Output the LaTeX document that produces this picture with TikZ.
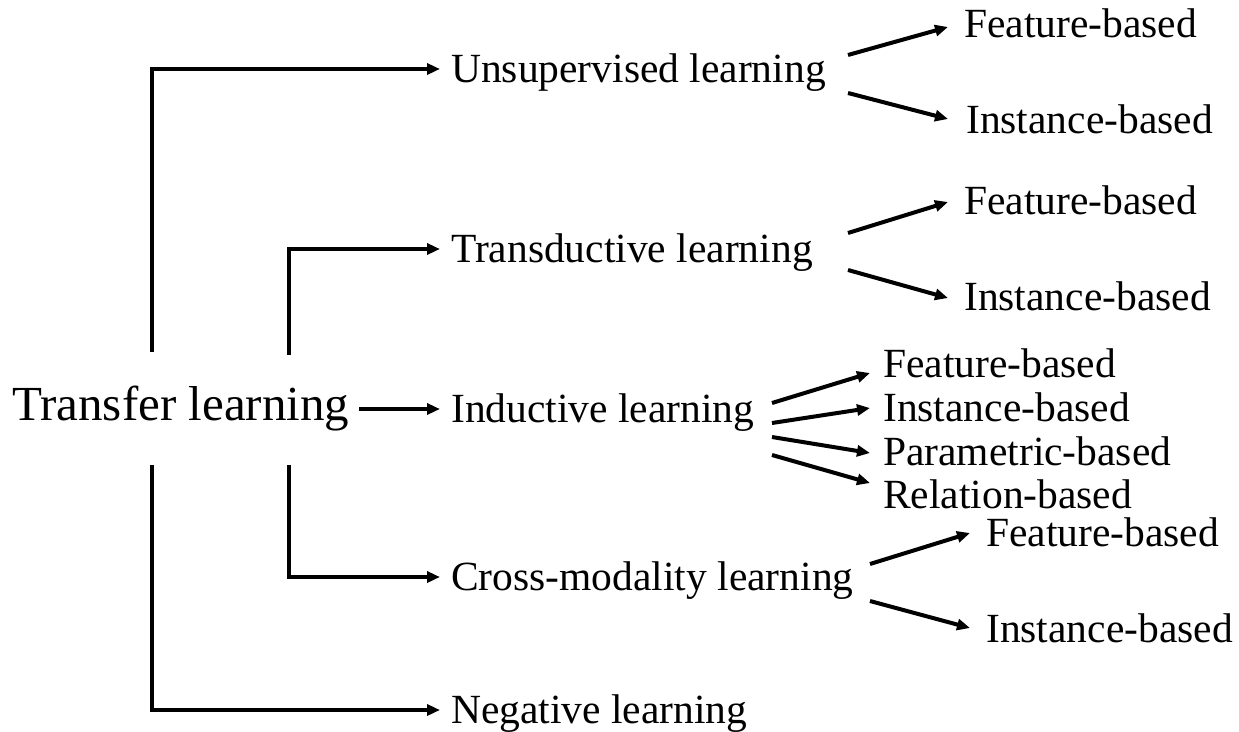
\documentclass[tikz,border=0pt]{standalone}
\usepackage{fontspec}
\setmainfont{Liberation Serif}
\usetikzlibrary{arrows.meta,calc}
\begin{document}
\begin{tikzpicture}[x=1pt,y=-1pt,
  lbl/.style={inner sep=0pt, anchor=base west, text height=26pt, text depth=0pt,
    font=\fontsize{41.5}{44}\selectfont},
  root/.style={lbl, text height=31pt, font=\fontsize{49}{52}\selectfont},
  conn/.style={line width=4pt, -{Triangle[length=13pt,width=11pt]}},
]
\useasboundingbox (0,0) rectangle (1239,731);
% nodes
\node[root] (tl) at (12,420) {Transfer learning};
\node[lbl] (uns) at (451,82) {Unsupervised learning};
\node[lbl] (tra) at (451,262) {Transductive learning};
\node[lbl] (ind) at (451,422) {Inductive learning};
\node[lbl] (cro) at (451,590) {Cross-modality learning};
\node[lbl] (neg) at (451,723) {Negative learning};
\node[lbl] (u1) at (964,37) {Feature-based};
\node[lbl] (u2) at (966,133) {Instance-based};
\node[lbl] (t1) at (964,214) {Feature-based};
\node[lbl] (t2) at (964,310) {Instance-based};
\node[lbl] (i1) at (883,377) {Feature-based};
\node[lbl] (i2) at (883,421) {Instance-based};
\node[lbl] (i3) at (883,465) {Parametric-based};
\node[lbl] (i4) at (883,508) {Relation-based};
\node[lbl] (c1) at (986,546) {Feature-based};
\node[lbl] (c2) at (986,642) {Instance-based};
% first-level connectors
\coordinate (ua) at (152,352);
\coordinate (ta) at (289,355);
\coordinate (ca) at (289,465);
\coordinate (na) at (152,465);
\draw[conn, shorten >=11pt] (ua) |- (uns.west);
\draw[conn, shorten >=11pt] (ta) |- (tra.west);
\draw[conn, shorten >=11pt] (ca) |- (cro.west);
\draw[conn, shorten >=11pt] (na) |- (neg.west);
\draw[conn, shorten <=10pt, shorten >=11pt] (tl.east |- ind.west) -- (ind.west);
% second-level connectors
\coordinate (us1) at (848,55);
\coordinate (us2) at (848,93);
\coordinate (ts1) at (848,233);
\coordinate (ts2) at (848,270);
\coordinate (is1) at (772,403);
\coordinate (is2) at (772,423);
\coordinate (is3) at (772,437);
\coordinate (is4) at (772,455);
\coordinate (cs1) at (870,564);
\coordinate (cs2) at (870,601);
\draw[conn] (us1) -- ($(u1.base west)+(-16,-10)$);
\draw[conn] (us2) -- ($(u2.base west)+(-18,-14)$);
\draw[conn] (ts1) -- ($(t1.base west)+(-16,-12)$);
\draw[conn] (ts2) -- ($(t2.base west)+(-16,-12)$);
\draw[conn] (is1) -- ($(i1.base west)+(-13,-4)$);
\draw[conn] (is2) -- ($(i2.base west)+(-13,-13)$);
\draw[conn] (is3) -- ($(i3.base west)+(-13,-12)$);
\draw[conn] (is4) -- ($(i4.base west)+(-13,-25)$);
\draw[conn] (cs1) -- ($(c1.base west)+(-16,-13)$);
\draw[conn] (cs2) -- ($(c2.base west)+(-16,-14)$);
\end{tikzpicture}
\end{document}
